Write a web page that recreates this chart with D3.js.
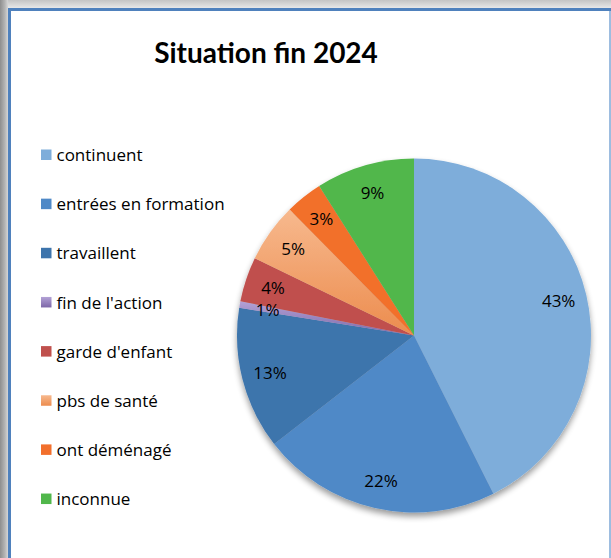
<!DOCTYPE html>
<html>
<head>
<meta charset="utf-8">
<script src="https://cdn.jsdelivr.net/npm/d3@7"></script>
<style>
  html, body { margin: 0; padding: 0; background: #fff; }
  svg { display: block; }
  text { font-family: "Open Sans", Lato, sans-serif; fill: #000; }
  .title { font-family: Lato, sans-serif; }
</style>
</head>
<body>
<div id="chart"></div>
<script>
// data (percent of people, end of 2024)
const categories = ["continuent", "entrées en formation", "travaillent", "fin de l'action",
                    "garde d'enfant", "pbs de santé", "ont déménagé", "inconnue"];
const values = [42.6, 21.9, 13.0, 0.6, 4.1, 5.4, 3.4, 9.0];
const colors = ["#7eadda", "#4f89c7", "#3d74ac", "#9c8bc4", "#c0504d", "#f1a26c", "#f26f2c", "#51b74b"];
const title = "Situation fin 2024";

const width = 611, height = 558;
const cx = 414, cy = 335.5, radius = 177;

const svg = d3.select("#chart").append("svg")
    .attr("width", width)
    .attr("height", height);

const defs = svg.append("defs");

// window frame gradients
let g1 = defs.append("linearGradient").attr("id", "leftFrame").attr("x1", 0).attr("x2", 1).attr("y1", 0).attr("y2", 0);
g1.append("stop").attr("offset", "0%").attr("stop-color", "#8e8e8e");
g1.append("stop").attr("offset", "60%").attr("stop-color", "#b4b4b4");
g1.append("stop").attr("offset", "100%").attr("stop-color", "#d6d6d6");
let g2 = defs.append("linearGradient").attr("id", "topFrame").attr("x1", 0).attr("x2", 0).attr("y1", 0).attr("y2", 1);
g2.append("stop").attr("offset", "0%").attr("stop-color", "#c4c4c4");
g2.append("stop").attr("offset", "100%").attr("stop-color", "#ececec");

// slight gradient on a couple of slices, like the excel fill
let gp = defs.append("linearGradient").attr("id", "grad3").attr("x1", 0).attr("x2", 0).attr("y1", 0).attr("y2", 1);
gp.append("stop").attr("offset", "0%").attr("stop-color", "#b3a2d6");
gp.append("stop").attr("offset", "100%").attr("stop-color", "#7d67a8");
let go = defs.append("linearGradient").attr("id", "grad5").attr("x1", 0).attr("x2", 0).attr("y1", 0).attr("y2", 1);
go.append("stop").attr("offset", "0%").attr("stop-color", "#f7b98e");
go.append("stop").attr("offset", "100%").attr("stop-color", "#ec8c4e");

const filter = defs.append("filter").attr("id", "shadow")
    .attr("x", "-20%").attr("y", "-20%").attr("width", "140%").attr("height", "140%");
filter.append("feGaussianBlur").attr("in", "SourceAlpha").attr("stdDeviation", 3);
filter.append("feOffset").attr("dx", 0).attr("dy", 4).attr("result", "blur");
filter.append("feComponentTransfer").append("feFuncA").attr("type", "linear").attr("slope", 0.4);
const merge = filter.append("feMerge");
merge.append("feMergeNode");
merge.append("feMergeNode").attr("in", "SourceGraphic");

function fillFor(i) {
  if (i === 3) return "url(#grad3)";
  if (i === 5) return "url(#grad5)";
  return colors[i];
}

// frame around the chart (screenshot border)
svg.append("rect").attr("x", 0).attr("y", 0).attr("width", width).attr("height", 9).attr("fill", "url(#topFrame)");
svg.append("rect").attr("x", 0).attr("y", 0).attr("width", 8).attr("height", height).attr("fill", "url(#leftFrame)");
svg.append("rect").attr("x", 8).attr("y", 8).attr("width", 3).attr("height", height).attr("fill", "#4f81bd");
svg.append("rect").attr("x", 8).attr("y", 8).attr("width", width).attr("height", 3).attr("fill", "#4f81bd");
svg.append("rect").attr("x", 609).attr("y", 11).attr("width", 2).attr("height", height).attr("fill", "#9dbde0");

// title
svg.append("text")
    .attr("class", "title")
    .attr("x", 266)
    .attr("y", 63)
    .attr("text-anchor", "middle")
    .style("font-size", "28px")
    .style("font-weight", "bold")
    .text(title);

// pie
const pie = d3.pie().sort(null).value(d => d);
const arcs = pie(values);
const arc = d3.arc().innerRadius(0).outerRadius(radius);
const labelArc = d3.arc().innerRadius(radius * 0.84).outerRadius(radius * 0.84);

const pieG = svg.append("g").attr("transform", "translate(" + cx + "," + cy + ")");

pieG.append("g")
    .attr("filter", "url(#shadow)")
    .selectAll("path")
    .data(arcs)
    .enter()
    .append("path")
    .attr("d", arc)
    .attr("fill", (d, i) => fillFor(i));

pieG.selectAll(".lbl")
    .data(arcs)
    .enter()
    .append("text")
    .attr("class", "lbl")
    .attr("transform", d => "translate(" + labelArc.centroid(d) + ")")
    .attr("text-anchor", "middle")
    .attr("dy", "0.36em")
    .style("font-size", "17px")
    .text(d => Math.round(d.value) + "%");

// legend
const legend = svg.append("g").attr("transform", "translate(41,149.5)");
const item = legend.selectAll("g")
    .data(categories)
    .enter()
    .append("g")
    .attr("transform", (d, i) => "translate(0," + (i * 49.15) + ")");

item.append("rect")
    .attr("width", 10.5)
    .attr("height", 10.5)
    .attr("fill", (d, i) => fillFor(i));

item.append("text")
    .attr("x", 15.5)
    .attr("y", 5.5)
    .attr("dy", "0.36em")
    .style("font-size", "17px")
    .text(d => d);
</script>
</body>
</html>
